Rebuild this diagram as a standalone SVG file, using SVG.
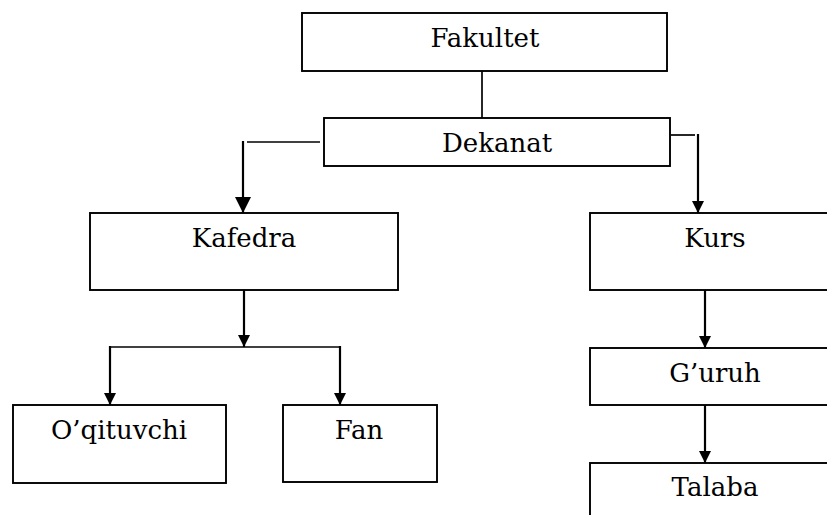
<svg xmlns="http://www.w3.org/2000/svg" width="827" height="515" viewBox="0 0 827 515">
<style>
.box{fill:#fff;stroke:#000;stroke-width:1.9}
.lbl{font-family:'DejaVu Serif','Liberation Serif',serif;font-size:26px;fill:#000;text-anchor:middle}
.ln{fill:none;stroke:#000;stroke-width:1.7}
.ar{fill:none;stroke:#000;stroke-width:2.2}
</style>
<defs>
<marker id="ah" markerUnits="userSpaceOnUse" markerWidth="16" markerHeight="16" refX="16" refY="8" orient="auto">
<path d="M0,0 L16,8 L0,16 Z" fill="#000"/>
</marker>
<marker id="ahs" markerUnits="userSpaceOnUse" markerWidth="12" markerHeight="12" refX="12" refY="6" orient="auto">
<path d="M0,0 L12,6 L0,12 Z" fill="#000"/>
</marker>
</defs>
<rect width="827" height="515" fill="#fff"/>
<g id="connectors">
<line class="ln" x1="482" y1="71" x2="482" y2="118"/>
<polyline class="ln" points="320,142 247,142"/>
<line class="ar" x1="243" y1="141" x2="243" y2="213" marker-end="url(#ah)"/>
<polyline class="ln" points="671,135 695,135"/>
<line class="ar" x1="698" y1="134" x2="698" y2="213" marker-end="url(#ahs)"/>
<line class="ar" x1="244" y1="290" x2="244" y2="347" marker-end="url(#ahs)"/>
<polyline class="ln" points="110,347 340,347" stroke-width="2.2"/>
<line class="ar" x1="110" y1="346" x2="110" y2="405" marker-end="url(#ahs)"/>
<line class="ar" x1="340" y1="346" x2="340" y2="405" marker-end="url(#ahs)"/>
<line class="ar" x1="705" y1="290" x2="705" y2="348" marker-end="url(#ahs)"/>
<line class="ar" x1="705" y1="405" x2="705" y2="463" marker-end="url(#ahs)"/>
</g>
<g id="fakultet"><rect class="box" x="302" y="13" width="365" height="58"/><text class="lbl" x="485" y="47">Fakultet</text></g>
<g id="dekanat"><rect class="box" x="324" y="118" width="346" height="48"/><text class="lbl" x="497" y="152">Dekanat</text></g>
<g id="kafedra"><rect class="box" x="90" y="213" width="308" height="77"/><text class="lbl" x="244" y="247">Kafedra</text></g>
<g id="kurs"><rect class="box" x="590" y="213" width="260" height="77"/><text class="lbl" x="715" y="247">Kurs</text></g>
<g id="oqituvchi"><rect class="box" x="13" y="405" width="213" height="78"/><text class="lbl" x="119" y="439">O’qituvchi</text></g>
<g id="fan"><rect class="box" x="283" y="405" width="154" height="77"/><text class="lbl" x="359" y="439">Fan</text></g>
<g id="guruh"><rect class="box" x="590" y="348" width="260" height="57"/><text class="lbl" x="715" y="382">G’uruh</text></g>
<g id="talaba"><rect class="box" x="590" y="463" width="260" height="80"/><text class="lbl" x="715" y="496">Talaba</text></g>
</svg>
